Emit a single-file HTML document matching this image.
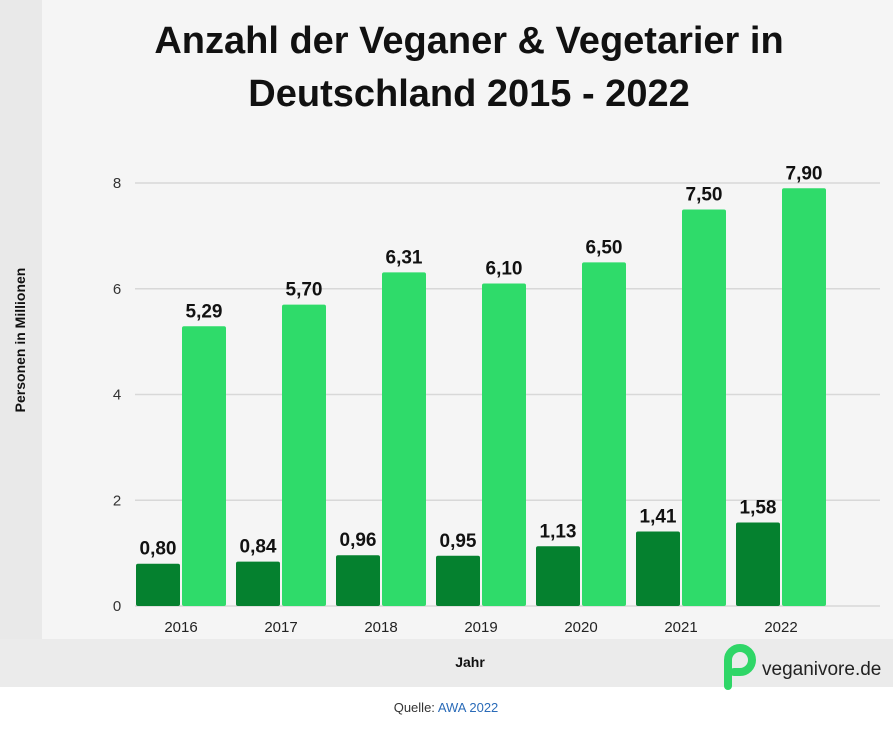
<!DOCTYPE html>
<html><head><meta charset="utf-8"><style>
body{margin:0;width:893px;height:724px;background:#fff;font-family:"Liberation Sans",sans-serif;overflow:hidden}
</style></head><body>
<svg width="893" height="724">
<rect x="0" y="0" width="893" height="687" fill="#f5f5f5"/>
<rect x="0" y="0" width="42" height="640" fill="#e9e9e9"/>
<rect x="0" y="639" width="893" height="48" fill="#ebebeb"/>
<text x="469" y="53" text-anchor="middle" font-size="38" font-weight="bold" fill="#111">Anzahl der Veganer &amp; Vegetarier in</text>
<text x="469" y="106" text-anchor="middle" font-size="38" font-weight="bold" fill="#111">Deutschland 2015 - 2022</text>
<text transform="translate(25,340) rotate(-90)" text-anchor="middle" font-size="14" font-weight="bold" fill="#111">Personen in Millionen</text>
<text x="470" y="667" text-anchor="middle" font-size="14" font-weight="bold" fill="#111">Jahr</text>
<g id="grid"></g><g id="bars"></g>
<g>
<path d="M728 686 V660 a12 12 0 1 1 12 12 h-6" fill="none" stroke="#2fd667" stroke-width="8" stroke-linecap="round"/>
<text x="762" y="675" font-size="19" fill="#222">veganivore.de</text>
</g>
<text x="446" y="712" text-anchor="middle" font-size="13" fill="#333">Quelle: <tspan fill="#2a6bb8">AWA 2022</tspan></text>
</svg>
<script>
const years=["2016","2017","2018","2019","2020","2021","2022"];
const vegan=[0.80,0.84,0.96,0.95,1.13,1.41,1.58];
const veggie=[5.29,5.70,6.31,6.10,6.50,7.50,7.90];
const yTicks=[0,2,4,6,8];
const NS="http://www.w3.org/2000/svg";
const y0=606,yTop=183,yMax=8;
const y=v=>y0-(y0-yTop)*v/yMax;
const gx=i=>136+i*100;
const fmt=v=>v.toFixed(2).replace('.',',');
function mk(t,a,p){const e=document.createElementNS(NS,t);for(const k in a)e.setAttribute(k,a[k]);p.appendChild(e);return e;}
const grid=document.getElementById('grid'),bars=document.getElementById('bars');
yTicks.forEach(t=>{
 const l=mk('line',{x1:135,x2:880,y1:y(t),y2:y(t),stroke:'#d8d8d8','stroke-width':1.5},grid);
 
 
 const tx=mk('text',{x:117,y:y(t)+5,'text-anchor':'middle','font-size':15,fill:'#333'},grid);
 tx.textContent=t;
 
 
});
years.forEach((yr,i)=>{
 const x=gx(i);
 [[vegan[i],x,'#05812f'],[veggie[i],x+46,'#2fdb6a']].forEach(([v,bx,c])=>{
  const r=mk('rect',{x:bx,y:y(v),width:44,height:y0-y(v),fill:c,rx:2},bars);
  
  
  const t=mk('text',{x:bx+22,y:y(v)-9,'text-anchor':'middle','font-size':19,'font-weight':'bold',fill:'#111'},bars);
  t.textContent=fmt(v);
  
  
 });
 const xl=mk('text',{x:x+45,y:632,'text-anchor':'middle','font-size':15,fill:'#222'},bars);
 xl.textContent=yr;
 
 
});
</script>
</body></html>
